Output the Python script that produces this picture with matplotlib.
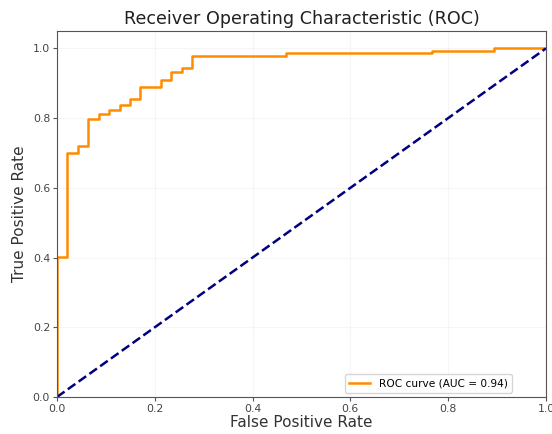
import matplotlib
matplotlib.use("Agg")
import matplotlib.pyplot as plt

fpr = [0.0, 0.0, 0.0213, 0.0213, 0.0426, 0.0426, 0.0638, 0.0638, 0.0851, 0.0851,
       0.106, 0.106, 0.128, 0.128, 0.149, 0.149, 0.170, 0.170, 0.213, 0.213,
       0.234, 0.234, 0.255, 0.255, 0.277, 0.277, 0.468, 0.468, 0.766, 0.766,
       0.894, 0.894, 1.0]
tpr = [0.0, 0.403, 0.403, 0.700, 0.700, 0.719, 0.719, 0.798, 0.798, 0.813,
       0.813, 0.823, 0.823, 0.839, 0.839, 0.855, 0.855, 0.890, 0.890, 0.909,
       0.909, 0.933, 0.933, 0.943, 0.943, 0.978, 0.978, 0.986, 0.986, 0.992,
       0.992, 1.0, 1.0]
roc_auc = 0.94
diag = [0, 1]

fig = plt.figure(figsize=(5.52, 4.34), dpi=100)
ax = fig.add_axes([0.1033, 0.0853, 0.8857, 0.8433])
ax.plot(fpr, tpr, color='darkorange', lw=1.8, label=f'ROC curve (AUC = {roc_auc:.2f})')
ax.plot(diag, diag, color='navy', lw=1.8, linestyle='--')
ax.set_xlim(0.0, 1.0)
ax.set_ylim(0.0, 1.05)
ax.set_xlabel('False Positive Rate', fontsize=11, labelpad=1, color='#333333')
ax.set_ylabel('True Positive Rate', fontsize=11, color='#333333')
ax.set_title('Receiver Operating Characteristic (ROC)', fontsize=12.6, pad=5, color='#222222')
ax.tick_params(labelsize=7.8, length=3, pad=2, colors='#555555', labelcolor='#444444')
ax.grid(alpha=0.1)
for s in ax.spines.values():
    s.set_color('#555555')
ax.legend(loc='lower right', fontsize=7.6, bbox_to_anchor=(0.93, 0.012), borderaxespad=0)
fig.savefig('out.png', dpi=100)
